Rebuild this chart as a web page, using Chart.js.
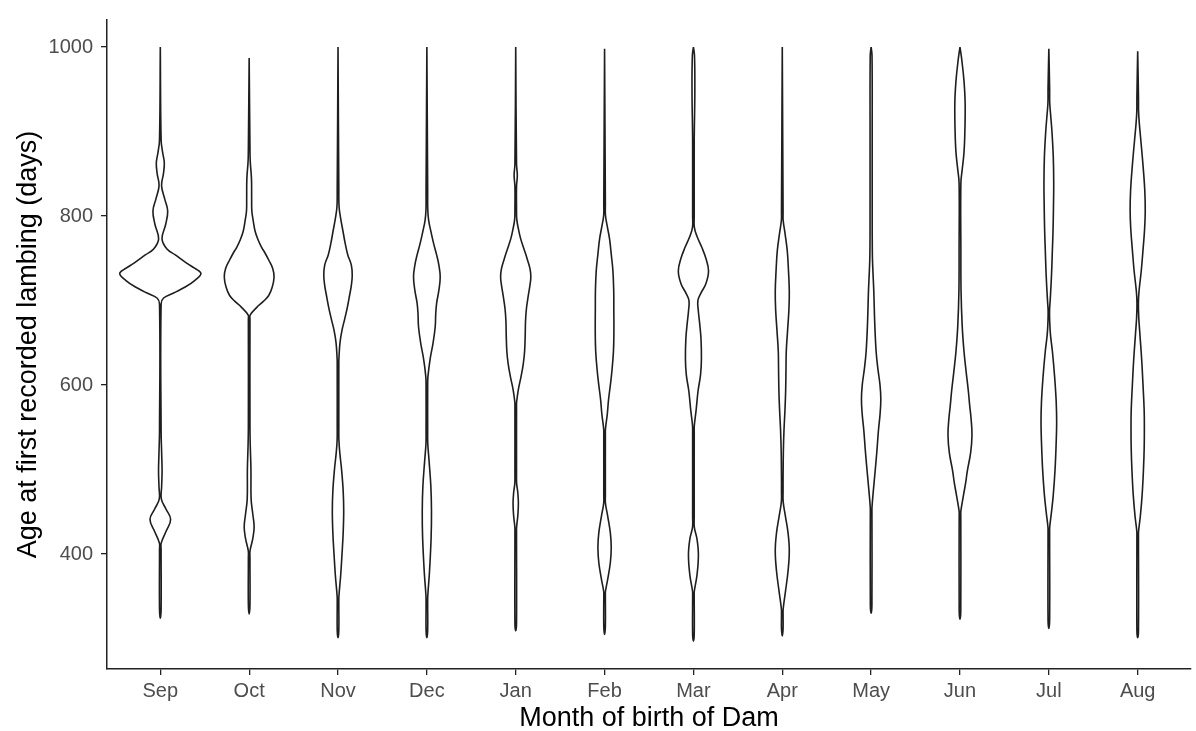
<!DOCTYPE html>
<html>
<head>
<meta charset="utf-8">
<title>Age at first recorded lambing by month of birth of Dam</title>
<script src="https://cdn.jsdelivr.net/npm/chart.js@4/dist/chart.umd.min.js"></script>
<style>
  body { margin: 0; background: #fff; }
  canvas { display: block; }
</style>
</head>
<body>
<canvas id="violinChart" width="1196" height="731"></canvas>
<script>
const months = ['Sep', 'Oct', 'Nov', 'Dec', 'Jan', 'Feb', 'Mar', 'Apr', 'May', 'Jun', 'Jul', 'Aug'];
const ageTicks = [400, 600, 800, 1000];

// Violin profiles: age (days) and half-width of the density (in category units).
// T is the hairline half-width used along the sparse tails.
const T = 0.009;

const sepAges   = [324, 335, 405, 413, 427, 441, 453, 465, 480, 498, 520, 545, 696, 703, 709, 716, 724, 732, 738, 744, 754, 761, 773, 790, 806, 820, 836, 850, 863, 876, 890, 1000];
const sepWidths = [0, T, T, 0.01, 0.065, 0.116, 0.065, 0.012, 0.015, 0.02, 0.015, T, T, 0.037, 0.15, 0.28, 0.39, 0.457, 0.39, 0.3, 0.169, 0.075, 0.019, 0.06, 0.083, 0.05, 0.014, 0.035, 0.045, 0.025, T, 0];

const octAges   = [329, 340, 395, 404, 418, 432, 448, 465, 500, 530, 550, 678, 683, 692, 699, 706, 716, 728, 738, 748, 756, 763, 772, 782, 795, 806, 820, 844, 865, 880, 987];
const octWidths = [0, T, T, 0.01, 0.04, 0.056, 0.04, 0.022, 0.02, 0.012, T, T, 0.012, 0.086, 0.16, 0.22, 0.26, 0.28, 0.265, 0.22, 0.18, 0.14, 0.1, 0.067, 0.045, 0.03, 0.028, 0.026, 0.012, T, 0];

const novAges   = [301, 310, 340, 350, 375, 400, 425, 451, 475, 500, 520, 535, 550, 625, 631, 650, 665, 678, 692, 706, 718, 730, 742, 754, 768, 782, 797, 811, 830, 1000];
const novWidths = [0, T, T, 0.01, 0.03, 0.045, 0.058, 0.064, 0.058, 0.04, 0.02, 0.01, T, T, 0.01, 0.022, 0.045, 0.075, 0.105, 0.13, 0.15, 0.16, 0.15, 0.11, 0.08, 0.056, 0.03, 0.012, T, 0];

const decAges   = [301, 310, 340, 350, 380, 420, 451, 480, 510, 531, 545, 598, 610, 631, 650, 669, 685, 697, 712, 728, 742, 754, 768, 782, 795, 808, 830, 1000];
const decWidths = [0, T, T, 0.01, 0.03, 0.048, 0.052, 0.045, 0.025, 0.01, T, T, 0.012, 0.037, 0.07, 0.094, 0.1, 0.11, 0.135, 0.15, 0.135, 0.11, 0.075, 0.045, 0.02, 0.01, T, 0];

const janAges   = [309, 318, 425, 432, 446, 460, 472, 484, 495, 575, 580, 595, 610, 625, 640, 660, 675, 690, 705, 718, 728, 738, 749, 762, 773, 785, 796, 810, 835, 848, 862, 1000];
const janWidths = [0, T, T, 0.01, 0.024, 0.03, 0.024, 0.01, T, T, 0.01, 0.03, 0.06, 0.085, 0.1, 0.107, 0.11, 0.12, 0.14, 0.16, 0.17, 0.16, 0.13, 0.09, 0.056, 0.03, 0.012, T, T, 0.018, T, 0];

const febAges   = [305, 315, 350, 356, 370, 390, 408, 425, 445, 460, 470, 540, 548, 565, 583, 600, 616, 640, 664, 690, 711, 735, 755, 773, 788, 801, 815, 998];
const febWidths = [0, T, T, 0.01, 0.035, 0.065, 0.075, 0.065, 0.035, 0.01, T, T, 0.01, 0.03, 0.045, 0.065, 0.082, 0.1, 0.105, 0.104, 0.103, 0.094, 0.075, 0.056, 0.03, 0.01, T, 0];

const marAges   = [297, 305, 350, 356, 375, 399, 418, 432, 445, 545, 552, 570, 593, 612, 631, 655, 673, 688, 700, 708, 720, 735, 750, 763, 776, 787, 800, 890, 900, 950, 990, 1000];
const marWidths = [0, T, T, 0.01, 0.04, 0.056, 0.04, 0.01, T, T, 0.01, 0.03, 0.052, 0.08, 0.09, 0.085, 0.07, 0.055, 0.05, 0.08, 0.14, 0.17, 0.14, 0.094, 0.04, 0.01, T, T, 0.01, 0.016, 0.012, 0];

const aprAges   = [303, 312, 328, 335, 355, 380, 404, 425, 445, 462, 475, 490, 520, 546, 570, 593, 620, 640, 665, 690, 711, 735, 759, 780, 795, 805, 1000];
const aprWidths = [0, T, T, 0.01, 0.035, 0.065, 0.079, 0.065, 0.035, 0.01, T, T, 0.012, 0.019, 0.03, 0.038, 0.042, 0.045, 0.06, 0.075, 0.079, 0.07, 0.056, 0.03, 0.01, T, 0];

const mayAges   = [330, 340, 450, 456, 475, 498, 522, 546, 565, 583, 600, 620, 640, 675, 711, 735, 754, 800, 900, 990, 1000];
const mayWidths = [0, T, T, 0.01, 0.025, 0.045, 0.065, 0.082, 0.1, 0.109, 0.1, 0.075, 0.056, 0.04, 0.03, 0.02, 0.014, 0.012, 0.012, 0.01, 0];

const junAges   = [323, 333, 445, 451, 470, 485, 498, 520, 541, 560, 575, 593, 615, 640, 670, 711, 760, 839, 855, 875, 900, 934, 960, 985, 1000];
const junWidths = [0, T, T, 0.01, 0.04, 0.065, 0.082, 0.12, 0.135, 0.125, 0.11, 0.094, 0.07, 0.045, 0.025, 0.012, 0.01, 0.01, 0.025, 0.045, 0.055, 0.058, 0.045, 0.02, 0];

const julAges   = [312, 322, 425, 432, 450, 470, 500, 530, 555, 580, 610, 640, 660, 675, 688, 700, 730, 760, 782, 810, 839, 870, 900, 920, 934, 950, 998];
const julWidths = [0, T, T, 0.01, 0.03, 0.05, 0.07, 0.082, 0.088, 0.083, 0.065, 0.04, 0.018, 0.01, 0.008, 0.015, 0.03, 0.04, 0.047, 0.052, 0.055, 0.05, 0.035, 0.02, 0.01, T, 0];

const augAges   = [301, 310, 420, 427, 445, 470, 500, 525, 546, 570, 600, 630, 660, 680, 697, 711, 735, 760, 785, 806, 830, 860, 890, 910, 924, 940, 995];
const augWidths = [0, T, T, 0.01, 0.03, 0.05, 0.065, 0.073, 0.075, 0.073, 0.06, 0.045, 0.025, 0.012, 0.008, 0.015, 0.04, 0.06, 0.078, 0.085, 0.08, 0.06, 0.035, 0.018, 0.01, T, 0];

const profiles = [
    [sepAges, sepWidths], [octAges, octWidths], [novAges, novWidths], [decAges, decWidths],
    [janAges, janWidths], [febAges, febWidths], [marAges, marWidths], [aprAges, aprWidths],
    [mayAges, mayWidths], [junAges, junWidths], [julAges, julWidths], [augAges, augWidths]
];

// closed outline: down the right side, back up the left side
function violinOutline(ages, widths, pos) {
    const right = ages.map((age, i) => ({x: pos + widths[i], y: age})).reverse();
    const left = ages.map((age, i) => ({x: pos - widths[i], y: age}));
    return right.concat(left.slice(1));
}

const datasets = profiles.map(([ages, widths], i) => ({
    label: months[i],
    data: violinOutline(ages, widths, i + 1),
    showLine: true,
    fill: false,
    borderColor: '#1e1e1e',
    borderWidth: 1.6,
    pointRadius: 0,
    tension: 0.4
}));

Chart.defaults.font.family = '"Liberation Sans", Arial, sans-serif';

const ctx = document.getElementById('violinChart').getContext('2d');
new Chart(ctx, {
    type: 'scatter',
    data: { datasets: datasets },
    options: {
        responsive: false,
        animation: false,
        devicePixelRatio: 1,
        layout: { padding: { top: 18, right: 5, bottom: 0, left: 0 } },
        plugins: {
            legend: { display: false },
            tooltip: { enabled: false }
        },
        scales: {
            x: {
                type: 'linear',
                min: 0.4,
                max: 12.6,
                afterBuildTicks: scale => {
                    scale.ticks = months.map((m, i) => ({ value: i + 1 }));
                },
                afterFit: scale => { scale.height = 62; },
                ticks: {
                    callback: value => months[value - 1],
                    color: '#4d4d4d',
                    font: { size: 20 },
                    padding: 4,
                    maxRotation: 0,
                    autoSkip: false
                },
                grid: {
                    display: true,
                    drawOnChartArea: false,
                    drawTicks: true,
                    tickLength: 6,
                    color: '#222',
                    lineWidth: 1.3
                },
                border: { display: true, color: '#222', width: 1.5 },
                title: {
                    display: true,
                    text: 'Month of birth of Dam',
                    color: '#000',
                    font: { size: 27, lineHeight: 0.9 },
                    padding: { top: 0, bottom: 0 }
                }
            },
            y: {
                type: 'linear',
                min: 264,
                max: 1032,
                afterBuildTicks: scale => {
                    scale.ticks = ageTicks.map(v => ({ value: v }));
                },
                afterFit: scale => { scale.width = 107; },
                ticks: {
                    callback: value => String(value),
                    color: '#4d4d4d',
                    font: { size: 20 },
                    padding: 8
                },
                grid: {
                    display: true,
                    drawOnChartArea: false,
                    drawTicks: true,
                    tickLength: 6,
                    color: '#222',
                    lineWidth: 1.3
                },
                border: { display: true, color: '#222', width: 1.5 },
                title: {
                    display: true,
                    text: 'Age at first recorded lambing (days)',
                    color: '#000',
                    font: { size: 27 },
                    padding: { top: 12, bottom: 0 }
                }
            }
        }
    }
});
</script>
</body>
</html>
